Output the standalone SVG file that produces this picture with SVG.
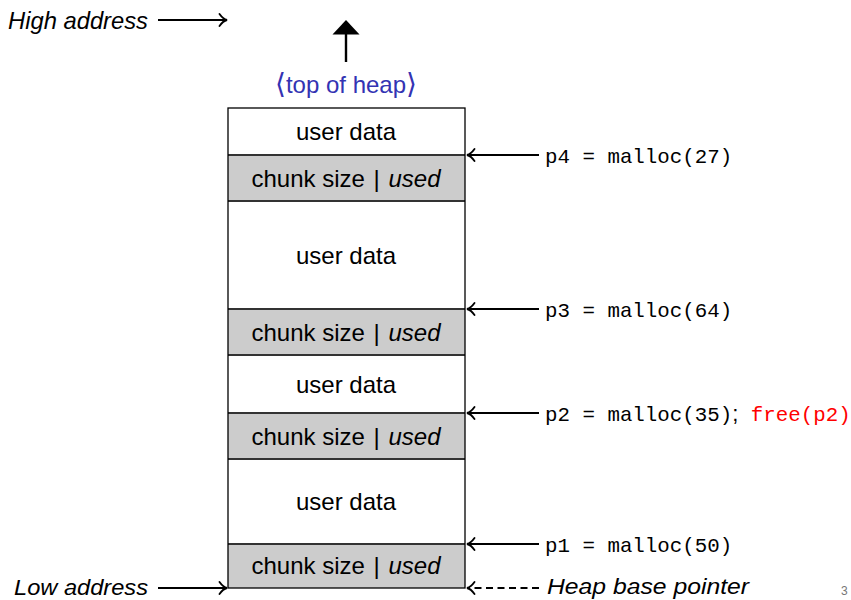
<svg xmlns="http://www.w3.org/2000/svg" width="851" height="600" viewBox="0 0 851 600">
  <style>
    .sans { font-family: "Liberation Sans", "DejaVu Sans", sans-serif; font-size: 24px; fill: #000; }
    .it { font-style: italic; }
    .mono { font-family: "Liberation Mono", "DejaVu Sans Mono", monospace; font-size: 20.8px; fill: #000; }
    .data { fill: #ffffff; stroke: none; }
    .chunk { fill: #cccccc; stroke: none; }
    .divider { stroke: #333333; stroke-width: 2.2; fill: none; }
    .edge { stroke: #000; stroke-width: 1.3; fill: none; }
    .conn { stroke: #000; stroke-width: 1.9; fill: none; }
  </style>
  <defs>
    <marker id="to" markerUnits="userSpaceOnUse" markerWidth="16" markerHeight="16" viewBox="-10 -8 12 16" refX="0" refY="0" orient="auto">
      <path d="M -7.5,-6 C -5,-2.5 -2,-0.5 0,0 C -2,0.5 -5,2.5 -7.5,6" fill="none" stroke="#000" stroke-width="1.9" stroke-linecap="round"/>
    </marker>
  </defs>

  <!-- heap chunks, top to bottom -->
  <g id="p4-data"><rect class="data" x="228" y="108" width="237" height="47"/><text class="sans" x="346" y="140" text-anchor="middle">user data</text></g>
  <g id="p4-header"><rect class="chunk" x="228" y="155" width="237" height="46"/><text class="sans" x="346" y="187" text-anchor="middle">chunk size <tspan dx="2">|</tspan> <tspan class="it" dx="2">used</tspan></text></g>
  <g id="p3-data"><rect class="data" x="228" y="201" width="237" height="108"/><text class="sans" x="346" y="264" text-anchor="middle">user data</text></g>
  <g id="p3-header"><rect class="chunk" x="228" y="309" width="237" height="46"/><text class="sans" x="346" y="341" text-anchor="middle">chunk size <tspan dx="2">|</tspan> <tspan class="it" dx="2">used</tspan></text></g>
  <g id="p2-data"><rect class="data" x="228" y="355" width="237" height="58"/><text class="sans" x="346" y="393" text-anchor="middle">user data</text></g>
  <g id="p2-header"><rect class="chunk" x="228" y="413" width="237" height="46"/><text class="sans" x="346" y="445" text-anchor="middle">chunk size <tspan dx="2">|</tspan> <tspan class="it" dx="2">used</tspan></text></g>
  <g id="p1-data"><rect class="data" x="228" y="459" width="237" height="85"/><text class="sans" x="346" y="510" text-anchor="middle">user data</text></g>
  <g id="p1-header"><rect class="chunk" x="228" y="544" width="237" height="44"/><text class="sans" x="346" y="574" text-anchor="middle">chunk size <tspan dx="2">|</tspan> <tspan class="it" dx="2">used</tspan></text></g>

  <!-- outline and chunk boundaries -->
  <g id="heap-outline">
    <path class="divider" d="M228,155 H465 M228,201 H465 M228,309 H465 M228,355 H465 M228,413 H465 M228,459 H465 M228,544 H465"/>
    <rect class="edge" x="228" y="108" width="237" height="480"/>
  </g>

  <!-- labels -->
  <g id="high-address"><text class="sans it" x="8" y="29" textLength="140" lengthAdjust="spacingAndGlyphs">High address</text></g>
  <g id="low-address"><text class="sans it" x="14" y="595" style="font-size:22.5px" textLength="134" lengthAdjust="spacingAndGlyphs">Low address</text></g>
  <g id="top-of-heap"><text class="sans" x="346" y="93" text-anchor="middle" style="fill:#3333b3"><tspan style="font-size:28px">⟨</tspan>top of heap<tspan style="font-size:28px">⟩</tspan></text></g>
  <g id="label-p4"><text class="mono" x="545" y="163">p4 = malloc(27)</text></g>
  <g id="label-p3"><text class="mono" x="545" y="317">p3 = malloc(64)</text></g>
  <g id="label-p2"><text class="mono" x="545" y="421">p2 = malloc(35)<tspan class="sans" style="font-size:22px">;</tspan> <tspan style="fill:#ff0000">free(p2)</tspan></text></g>
  <g id="label-p1"><text class="mono" x="545" y="552">p1 = malloc(50)</text></g>
  <g id="heap-base"><text class="sans it" x="547" y="594" style="font-size:22.5px" textLength="202" lengthAdjust="spacingAndGlyphs">Heap base pointer</text></g>
  <g id="page-number"><text x="841" y="595" style="font-family:'Liberation Sans',sans-serif;font-size:12px;fill:#777">3</text></g>

  <!-- connectors -->
  <g id="connectors">
    <line class="conn" x1="158" y1="20" x2="227" y2="20" marker-end="url(#to)"/>
    <line class="conn" x1="158" y1="588" x2="227" y2="588" marker-end="url(#to)"/>
    <line x1="346" y1="62" x2="346" y2="32" stroke="#000" stroke-width="2.4"/>
    <polygon points="346,20 359.5,34.5 332.5,34.5" fill="#000"/>
    <line class="conn" x1="539" y1="155" x2="467" y2="155" marker-end="url(#to)"/>
    <line class="conn" x1="539" y1="309" x2="467" y2="309" marker-end="url(#to)"/>
    <line class="conn" x1="539" y1="413" x2="467" y2="413" marker-end="url(#to)"/>
    <line class="conn" x1="539" y1="544" x2="467" y2="544" marker-end="url(#to)"/>
    <line class="conn" x1="539" y1="588" x2="467" y2="588" stroke-dasharray="7,4.5" marker-end="url(#to)"/>
  </g>
</svg>
